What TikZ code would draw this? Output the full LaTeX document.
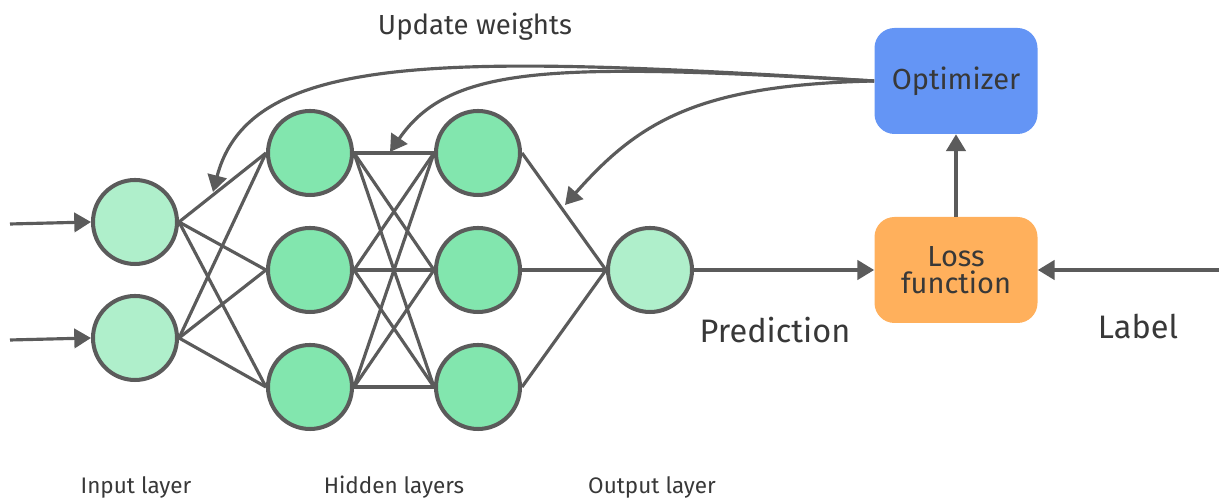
\documentclass[tikz,border=0pt]{standalone}
\usepackage{fontspec}
\setmainfont{Fira Sans}
\usetikzlibrary{arrows.meta, positioning, calc}

\definecolor{edgeGray}{HTML}{5B5B5B}
\definecolor{textGray}{HTML}{383838}
\definecolor{inGreen}{HTML}{AFEFCB}
\definecolor{hidGreen}{HTML}{82E6AE}
\definecolor{optBlue}{HTML}{6495F5}
\definecolor{lossOrange}{HTML}{FFB05C}

\begin{document}
\begin{tikzpicture}[
    neuron/.style={circle, draw=edgeGray, line width=2.3pt, minimum size=1.68cm, inner sep=0pt},
    inNeuron/.style={neuron, fill=inGreen},
    hidNeuron/.style={neuron, fill=hidGreen},
    stageBox/.style={rectangle, rounded corners=0.4cm, minimum width=3.26cm, minimum height=2.12cm,
        align=center, text=textGray, font=\fontsize{16.5}{15.5}\selectfont},
    wire/.style={draw=edgeGray, line width=1.8pt},
    flow/.style={wire, -{Triangle[length=9.5pt, width=11pt]}},
    layerText/.style={text=textGray, font=\fontsize{12.8}{14}\selectfont}
]
    \useasboundingbox (0,0) rectangle (24.38,10);

    % --- NETWORK ---
    \node[inNeuron] (i1) at (2.70, 5.56) {};
    \node[inNeuron] (i2) at (2.70, 3.24) {};

    \node[hidNeuron] (h1) at (6.20, 6.94) {};
    \node[hidNeuron] (h2) at (6.20, 4.60) {};
    \node[hidNeuron] (h3) at (6.20, 2.26) {};

    \node[hidNeuron] (g1) at (9.56, 6.94) {};
    \node[hidNeuron] (g2) at (9.56, 4.60) {};
    \node[hidNeuron] (g3) at (9.56, 2.26) {};

    \node[inNeuron] (out) at (13.0, 4.60) {};

    % Fully connected layers
    \foreach \a in {i1,i2}
        \foreach \b in {h1,h2,h3}
            \draw[wire] (\a.east) -- (\b.west);
    \foreach \a in {h1,h2,h3}
        \foreach \b in {g1,g2,g3}
            \draw[wire] (\a.east) -- (\b.west);
    \foreach \a in {g1,g2,g3}
        \draw[wire] (\a.east) -- (out.west);

    % Inputs
    \coordinate (x1) at (0.2, 5.52);
    \coordinate (x2) at (0.2, 3.20);
    \draw[flow] (x1) -- (i1.west);
    \draw[flow] (x2) -- (i2.west);

    % --- TRAINING LOOP ---
    \node[stageBox, fill=lossOrange] (loss) at (19.12, 4.60) {Loss\\function};
    \node[stageBox, fill=optBlue] (opt) at (19.12, 8.38) {Optimizer};

    \coordinate (lbl) at (24.38, 4.60);
    \draw[flow] (out.east) -- (loss.west);
    \draw[flow] (lbl) -- (loss.east);
    \draw[flow] (loss.north) -- (opt.south);

    % Weight updates back into the network
    \coordinate (w1) at (4.26, 6.16);
    \coordinate (w2) at (7.80, 6.96);
    \coordinate (w3) at (11.30, 5.90);
    \draw[flow] (opt.west) .. controls (9, 8.9) and (5, 9.0) .. (w1);
    \draw[flow] (opt.west) .. controls (11, 8.75) and (9, 8.7) .. (w2);
    \draw[flow] (opt.west) .. controls (14, 8.3) and (12.8, 7.6) .. (w3);

    % --- LABELS ---
    \node[text=textGray, font=\fontsize{15.7}{16}\selectfont] (upd) at (9.5, 9.46) {Update weights};
    \node[text=textGray, font=\fontsize{18.5}{19}\selectfont] (pred) at (15.5, 3.40) {Prediction};
    \node[text=textGray, font=\fontsize{18.5}{19}\selectfont] (lab) at (22.76, 3.46) {Label};

    \node[layerText] (inL) at (2.72, 0.26) {Input layer};
    \node[layerText] (hidL) at (7.88, 0.26) {Hidden layers};
    \node[layerText] (outL) at (13.04, 0.26) {Output layer};

\end{tikzpicture}
\end{document}
